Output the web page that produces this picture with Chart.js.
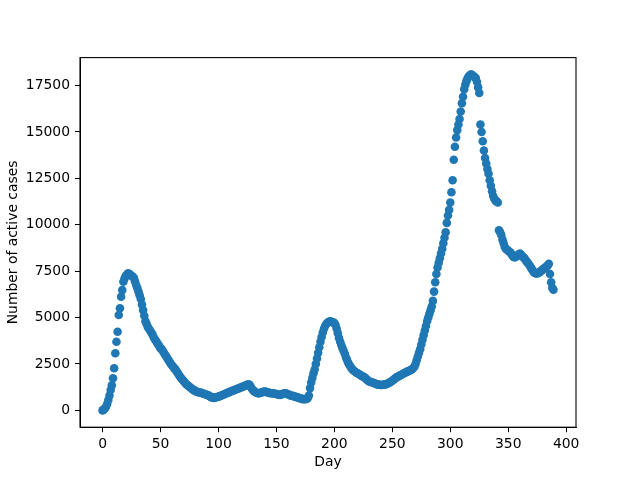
<!DOCTYPE html>
<html>
<head>
<meta charset="utf-8">
<script src="https://cdn.jsdelivr.net/npm/chart.js@4"></script>
<style>
  body { margin: 0; background: #fff; }
  canvas { display: block; }
</style>
</head>
<body>
<canvas id="casesChart" width="640" height="480"></canvas>
<script>
// active cases, one value per day starting at day 0
const activeCases = [
  0, 40, 100, 200, 350, 560, 800, 1100, 1350, 1730,
  2270, 3080, 3700, 4240, 5140, 5500, 6120, 6480, 6930, 7100,
  7250, 7300, 7380, 7350, 7300, 7250, 7200, 7150, 6950, 6750,
  6600, 6400, 6200, 6000, 5700, 5400, 5100, 4800, 4650, 4500,
  4400, 4300, 4200, 4100, 3950, 3850, 3750, 3650, 3550, 3450,
  3350, 3300, 3200, 3100, 3000, 2900, 2800, 2700, 2600, 2500,
  2420, 2350, 2250, 2200, 2100, 2000, 1900, 1810, 1720, 1650,
  1580, 1500, 1420, 1370, 1320, 1270, 1220, 1170, 1120, 1080,
  1050, 1010, 990, 970, 960, 950, 930, 900, 880, 860,
  840, 820, 780, 740, 700, 680, 670, 690, 710, 720,
  740, 760, 790, 820, 840, 870, 900, 920, 950, 980,
  1000, 1030, 1060, 1080, 1100, 1130, 1150, 1180, 1200, 1230,
  1250, 1280, 1300, 1330, 1360, 1380, 1400, 1370, 1250, 1150,
  1080, 1020, 980, 950, 930, 920, 940, 960, 990, 1000,
  1010, 1000, 980, 960, 940, 930, 920, 920, 910, 900,
  880, 860, 840, 830, 850, 880, 900, 920, 920, 900,
  870, 840, 810, 790, 780, 760, 740, 720, 700, 680,
  660, 640, 620, 610, 600, 610, 620, 650, 800, 1200,
  1500, 1750, 2000, 2200, 2500, 2800, 3100, 3400, 3700, 3950,
  4200, 4400, 4550, 4650, 4720, 4760, 4800, 4780, 4760, 4750,
  4700, 4600, 4400, 4150, 3900, 3700, 3520, 3350, 3200, 3050,
  2850, 2700, 2550, 2450, 2350, 2250, 2180, 2120, 2080, 2030,
  2000, 1960, 1920, 1880, 1840, 1810, 1780, 1720, 1660, 1600,
  1560, 1540, 1520, 1500, 1480, 1450, 1420, 1400, 1390, 1380,
  1370, 1370, 1380, 1390, 1400, 1420, 1450, 1480, 1520, 1560,
  1600, 1650, 1700, 1750, 1800, 1830, 1860, 1890, 1920, 1960,
  2000, 2030, 2060, 2090, 2120, 2150, 2180, 2220, 2280, 2350,
  2500, 2700, 2900, 3100, 3300, 3550, 3800, 4050, 4300, 4550,
  4800, 5000, 5200, 5400, 5600, 5900, 6400, 6900, 7350, 7700,
  7950, 8200, 8450, 8700, 9000, 9300, 9600, 10100, 10500, 10800,
  11200, 11750, 12400, 13500, 14200, 14700, 15100, 15400, 15700, 16100,
  16550, 16900, 17300, 17550, 17750, 17900, 18000, 18050, 18100, 18050,
  18000, 17950, 17900, 17700, 17400, 17100, 15400, 15000, 14500, 14000,
  13600, 13300, 13000, 12750, 12400, 12100, 11800, 11550, 11400, 11300,
  11250, 11200, 9700, 9600, 9450, 9200, 9000, 8800, 8700, 8650,
  8600, 8550, 8500, 8400, 8300, 8250, 8250, 8300, 8350, 8400,
  8450, 8400, 8300, 8250, 8200, 8100, 8000, 7950, 7850, 7750,
  7650, 7550, 7450, 7400, 7380, 7380, 7400, 7450, 7500, 7550,
  7600, 7650, 7700, 7750, 7800, 7900, 7350, 6900, 6600, 6500
];
const dayTicks = [0, 50, 100, 150, 200, 250, 300, 350, 400];
const caseTicks = [0, 2500, 5000, 7500, 10000, 12500, 15000, 17500];

const points = activeCases.map((v, day) => ({ x: day, y: v }));

// matplotlib-like 5% margins around the data
const xSpan = activeCases.length - 1;
const yMax = Math.max(...activeCases);

const font = { family: 'DejaVu Sans', size: 13.9 };

// draw the full box around the plot like matplotlib spines
const frame = {
  id: 'frame',
  afterDraw(chart) {
    const { ctx, chartArea: a } = chart;
    ctx.save();
    ctx.strokeStyle = '#000';
    ctx.lineWidth = 1.1;
    ctx.strokeRect(a.left, a.top, a.right - a.left, a.bottom - a.top);
    ctx.restore();
  }
};

new Chart(document.getElementById('casesChart'), {
  type: 'scatter',
  data: {
    datasets: [{
      data: points,
      backgroundColor: '#1f77b4',
      borderWidth: 0,
      pointRadius: 4.3,
      pointHoverRadius: 4.3
    }]
  },
  options: {
    responsive: false,
    animation: false,
    layout: { padding: { top: 57.6, right: 64, left: 0, bottom: 0 } },
    plugins: { legend: { display: false }, tooltip: { enabled: false } },
    scales: {
      x: {
        type: 'linear',
        min: -xSpan * 0.05,
        max: xSpan * 1.05,
        afterFit: s => { s.height = 52.8; },
        afterBuildTicks: s => { s.ticks = dayTicks.map(v => ({ value: v })); },
        grid: { drawOnChartArea: false, drawTicks: true, tickLength: 5, color: '#000' },
        border: { display: true, color: '#000', width: 1 },
        ticks: { color: '#000', font, padding: 4, maxRotation: 0, callback: v => String(v) },
        title: { display: true, text: 'Day', color: '#000', font, padding: { top: 4, bottom: 9 } }
      },
      y: {
        type: 'linear',
        min: -yMax * 0.05,
        max: yMax * 1.05,
        afterFit: s => { s.width = 80; },
        afterBuildTicks: s => { s.ticks = caseTicks.map(v => ({ value: v })); },
        grid: { drawOnChartArea: false, drawTicks: true, tickLength: 5, color: '#000' },
        border: { display: true, color: '#000', width: 1 },
        ticks: { color: '#000', font, padding: 5, callback: v => String(v) },
        title: { display: true, text: 'Number of active cases', color: '#000', font, padding: { top: 5, bottom: 0 } }
      }
    }
  },
  plugins: [frame]
});
</script>
</body>
</html>
